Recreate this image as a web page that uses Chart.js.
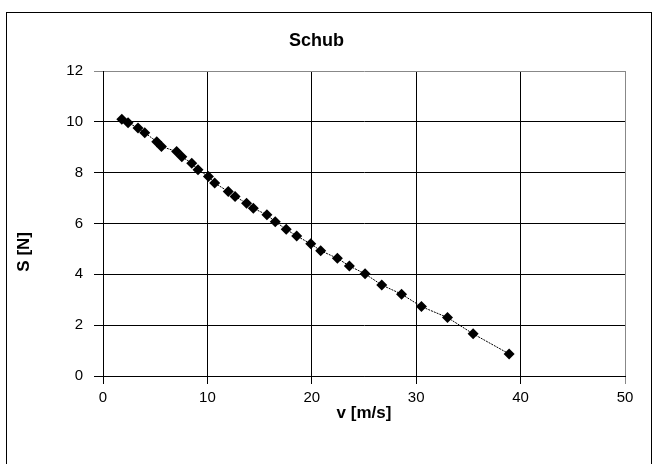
<!DOCTYPE html>
<html lang="de">
<head>
    <meta charset="UTF-8">
    <title>Schub</title>
    <script src="https://cdn.jsdelivr.net/npm/chart.js"></script>
    <style>
        html, body {
            margin: 0;
            padding: 0;
            background-color: #fff;
        }

        .frame {
            position: relative;
            width: 657px;
            height: 464px;
        }

        canvas {
            display: block;
        }
    </style>
</head>
<body>

    <div class="frame">
        <canvas id="schubChart" width="657" height="464"></canvas>
    </div>

    <script>
        // Messwerte: Geschwindigkeit v [m/s] und Schub S [N]
        const vValues = [1.8, 2.4, 3.35, 4.0, 5.15, 5.6, 7.05, 7.55, 8.5, 9.1,
                         10.1, 10.7, 12.0, 12.65, 13.75, 14.4, 15.7, 16.5, 17.55, 18.55,
                         19.9, 20.85, 22.45, 23.6, 25.1, 26.7, 28.6, 30.5, 33.0, 35.45, 38.9];
        const sValues = [10.1, 9.96, 9.76, 9.57, 9.22, 9.03, 8.83, 8.63, 8.37, 8.11,
                         7.85, 7.59, 7.26, 7.06, 6.8, 6.6, 6.34, 6.07, 5.77, 5.51,
                         5.2, 4.93, 4.63, 4.33, 4.02, 3.58, 3.22, 2.73, 2.3, 1.66, 0.87];

        const xTicks = [0, 10, 20, 30, 40, 50];
        const yTicks = [0, 2, 4, 6, 8, 10, 12];

        const points = vValues.map((v, i) => ({ x: v, y: sValues[i] }));

        // Rahmen um das ganze Diagramm
        const outerFrame = {
            id: 'outerFrame',
            beforeDraw(chart) {
                const ctx = chart.ctx;
                ctx.save();
                ctx.strokeStyle = '#000';
                ctx.lineWidth = 1;
                ctx.strokeRect(6.5, 12.5, 645, 460);
                ctx.restore();
            }
        };

        const font = 'Liberation Sans, Arial, sans-serif';

        new Chart(document.getElementById('schubChart'), {
            type: 'scatter',
            data: {
                datasets: [{
                    label: 'Schub',
                    data: points,
                    showLine: true,
                    borderColor: '#000',
                    borderWidth: 1,
                    borderDash: [2, 1],
                    pointStyle: 'rectRot',
                    pointRadius: 5.5,
                    pointBackgroundColor: '#000',
                    pointBorderColor: '#000',
                    pointBorderWidth: 0
                }]
            },
            options: {
                responsive: false,
                animation: false,
                layout: {
                    padding: { left: 8, right: 32, top: 0, bottom: 0 }
                },
                plugins: {
                    legend: { display: false },
                    tooltip: { enabled: false },
                    title: {
                        display: true,
                        text: 'Schub',
                        color: '#000',
                        font: { family: font, size: 18, weight: 'bold' },
                        padding: { top: 30, bottom: 19.4 }
                    }
                },
                scales: {
                    x: {
                        type: 'linear',
                        min: 0,
                        max: 50,
                        afterBuildTicks: axis => { axis.ticks = xTicks.map(v => ({ value: v })); },
                        afterFit: axis => { axis.height = 88; },
                        ticks: {
                            color: '#000',
                            font: { family: font, size: 15 },
                            padding: 5,
                            maxRotation: 0
                        },
                        grid: {
                            color: ctx => (ctx.tick && ctx.tick.value === 50) ? '#888' : '#000',
                            lineWidth: 1,
                            tickLength: 8
                        },
                        border: { color: '#000', width: 1 },
                        title: {
                            display: true,
                            text: 'v [m/s]',
                            color: '#000',
                            font: { family: font, size: 17, weight: 'bold' },
                            padding: { top: 0, bottom: 40 }
                        }
                    },
                    y: {
                        type: 'linear',
                        min: 0,
                        max: 12,
                        afterBuildTicks: axis => { axis.ticks = yTicks.map(v => ({ value: v })); },
                        afterFit: axis => { axis.width = 95; },
                        ticks: {
                            color: '#000',
                            font: { family: font, size: 15 },
                            padding: 11
                        },
                        grid: {
                            color: ctx => (ctx.tick && ctx.tick.value === 12) ? '#888' : '#000',
                            lineWidth: 1,
                            tickLength: 9
                        },
                        border: { color: '#000', width: 1 },
                        title: {
                            display: true,
                            text: 'S [N]            ',
                            color: '#000',
                            font: { family: font, size: 17, weight: 'bold' },
                            padding: { top: 6, bottom: 0 }
                        }
                    }
                }
            },
            plugins: [outerFrame]
        });
    </script>

</body>
</html>
